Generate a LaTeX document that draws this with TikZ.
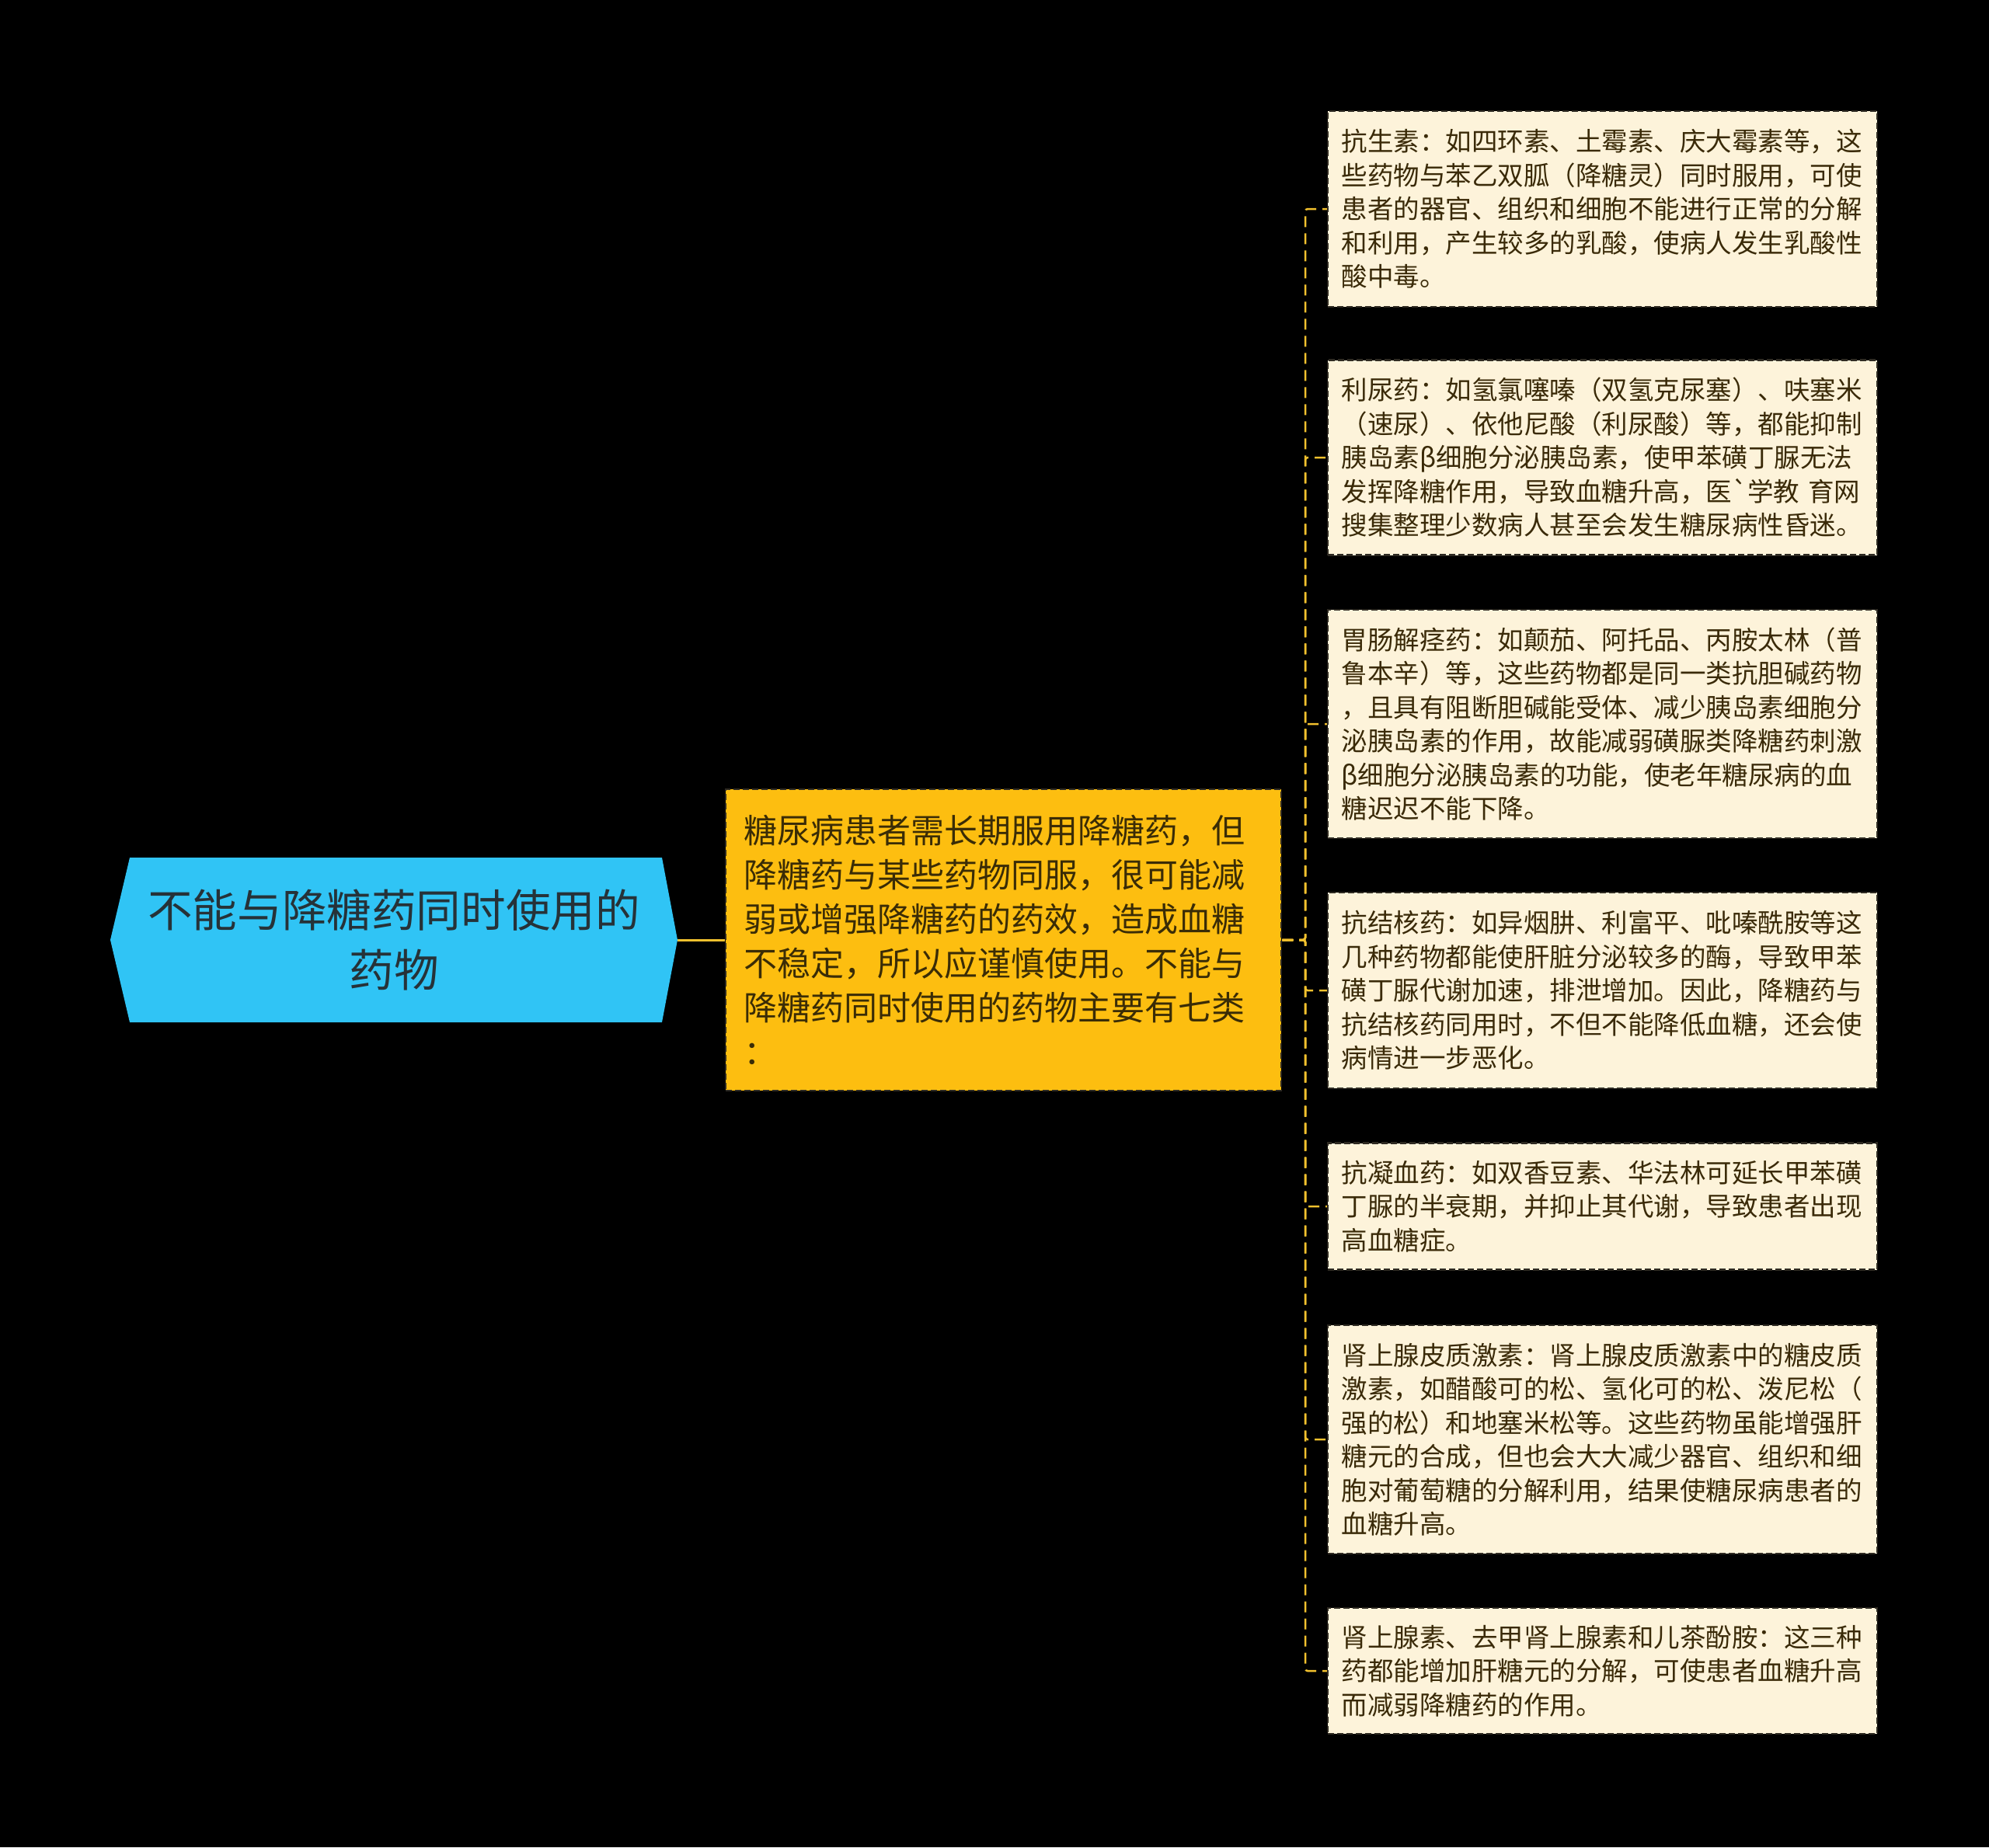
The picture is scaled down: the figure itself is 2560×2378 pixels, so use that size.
\documentclass[tikz,border=0pt]{standalone}
\usepackage{fontspec}
\newfontfamily\cjk{Noto Sans CJK SC}[Ligatures=TeXOff]
\definecolor{rootblue}{HTML}{30C4F5}
\definecolor{roottext}{HTML}{263238}
\definecolor{midyellow}{HTML}{FDBE10}
\definecolor{midtext}{HTML}{3A2C06}
\definecolor{leafcream}{HTML}{FDF3DA}
\definecolor{leaftext}{HTML}{3A2A08}
\definecolor{boxedge}{HTML}{2E2A22}
\definecolor{linkyellow}{HTML}{F2C12E}

\begin{document}
\begin{tikzpicture}[x=1pt,y=-1pt,
    rootlabel/.style={text=roottext,align=center,inner sep=0pt,
        font=\cjk\fontsize{57.6}{77}\selectfont},
    midbox/.style={draw=boxedge,dash pattern=on 8pt off 4pt,line width=2.5pt,
        fill=midyellow,text=midtext,text width=669pt,inner xsep=23pt,inner ysep=0pt,
        align=left,font=\cjk\fontsize{43}{57}\selectfont},
    leaf/.style={draw=boxedge,dash pattern=on 8pt off 4pt,line width=2.5pt,
        fill=leafcream,text=leaftext,text width=672pt,inner xsep=17.5pt,inner ysep=0pt,
        align=left,font=\cjk\fontsize{33.5}{43.5}\selectfont},
    trunk/.style={draw=linkyellow,line width=3pt},
    link/.style={draw=linkyellow,line width=2.5pt,dash pattern=on 14pt off 8pt,rounded corners=3pt}]
    \useasboundingbox (0,0) rectangle (2560,2378);
    \fill[black] (0,0) rectangle (2560,2378);

    \fill[rootblue] (142,1210) -- (167,1104) -- (852,1104) -- (872,1210) -- (852,1316) -- (167,1316) -- cycle;
    \node[rootlabel] (root) at (507,1210) {不能与降糖药同时使用的\\药物};
    \coordinate (roottip) at (872,1210);

    \node[midbox,minimum height=388pt] (mid) at (1291.5,1210) {糖尿病患者需长期服用降糖药，但\\降糖药与某些药物同服，很可能减\\弱或增强降糖药的药效，造成血糖\\不稳定，所以应谨慎使用。不能与\\降糖药同时使用的药物主要有七类\\：};

    \node[leaf,minimum height=252pt] (leaf1) at (2062.5,269) {抗生素：如四环素、土霉素、庆大霉素等，这\\些药物与苯乙双胍（降糖灵）同时服用，可使\\患者的器官、组织和细胞不能进行正常的分解\\和利用，产生较多的乳酸，使病人发生乳酸性\\酸中毒。};
    \node[leaf,minimum height=251pt] (leaf2) at (2062.5,589) {利尿药：如氢氯噻嗪（双氢克尿塞）、呋塞米\\（速尿）、依他尼酸（利尿酸）等，都能抑制\\胰岛素β细胞分泌胰岛素，使甲苯磺丁脲无法\\发挥降糖作用，导致血糖升高，医`学教 育网\\搜集整理少数病人甚至会发生糖尿病性昏迷。};
    \node[leaf,minimum height=294pt] (leaf3) at (2062.5,932) {胃肠解痉药：如颠茄、阿托品、丙胺太林（普\\鲁本辛）等，这些药物都是同一类抗胆碱药物\\，且具有阻断胆碱能受体、减少胰岛素细胞分\\泌胰岛素的作用，故能减弱磺脲类降糖药刺激\\β细胞分泌胰岛素的功能，使老年糖尿病的血\\糖迟迟不能下降。};
    \node[leaf,minimum height=252pt] (leaf4) at (2062.5,1275) {抗结核药：如异烟肼、利富平、吡嗪酰胺等这\\几种药物都能使肝脏分泌较多的酶，导致甲苯\\磺丁脲代谢加速，排泄增加。因此，降糖药与\\抗结核药同用时，不但不能降低血糖，还会使\\病情进一步恶化。};
    \node[leaf,minimum height=163pt] (leaf5) at (2062.5,1553) {抗凝血药：如双香豆素、华法林可延长甲苯磺\\丁脲的半衰期，并抑止其代谢，导致患者出现\\高血糖症。};
    \node[leaf,minimum height=294pt] (leaf6) at (2062.5,1853) {肾上腺皮质激素：肾上腺皮质激素中的糖皮质\\激素，如醋酸可的松、氢化可的松、泼尼松（\\强的松）和地塞米松等。这些药物虽能增强肝\\糖元的合成，但也会大大减少器官、组织和细\\胞对葡萄糖的分解利用，结果使糖尿病患者的\\血糖升高。};
    \node[leaf,minimum height=162pt] (leaf7) at (2062.5,2151) {肾上腺素、去甲肾上腺素和儿茶酚胺：这三种\\药都能增加肝糖元的分解，可使患者血糖升高\\而减弱降糖药的作用。};

    \coordinate (hub) at (1680,1210);
    \draw[trunk] (roottip) -- (mid.west);
    \foreach \i in {1,...,7}
        \draw[link] (mid.east) -- (hub) |- (leaf\i.west);
\end{tikzpicture}
\end{document}
